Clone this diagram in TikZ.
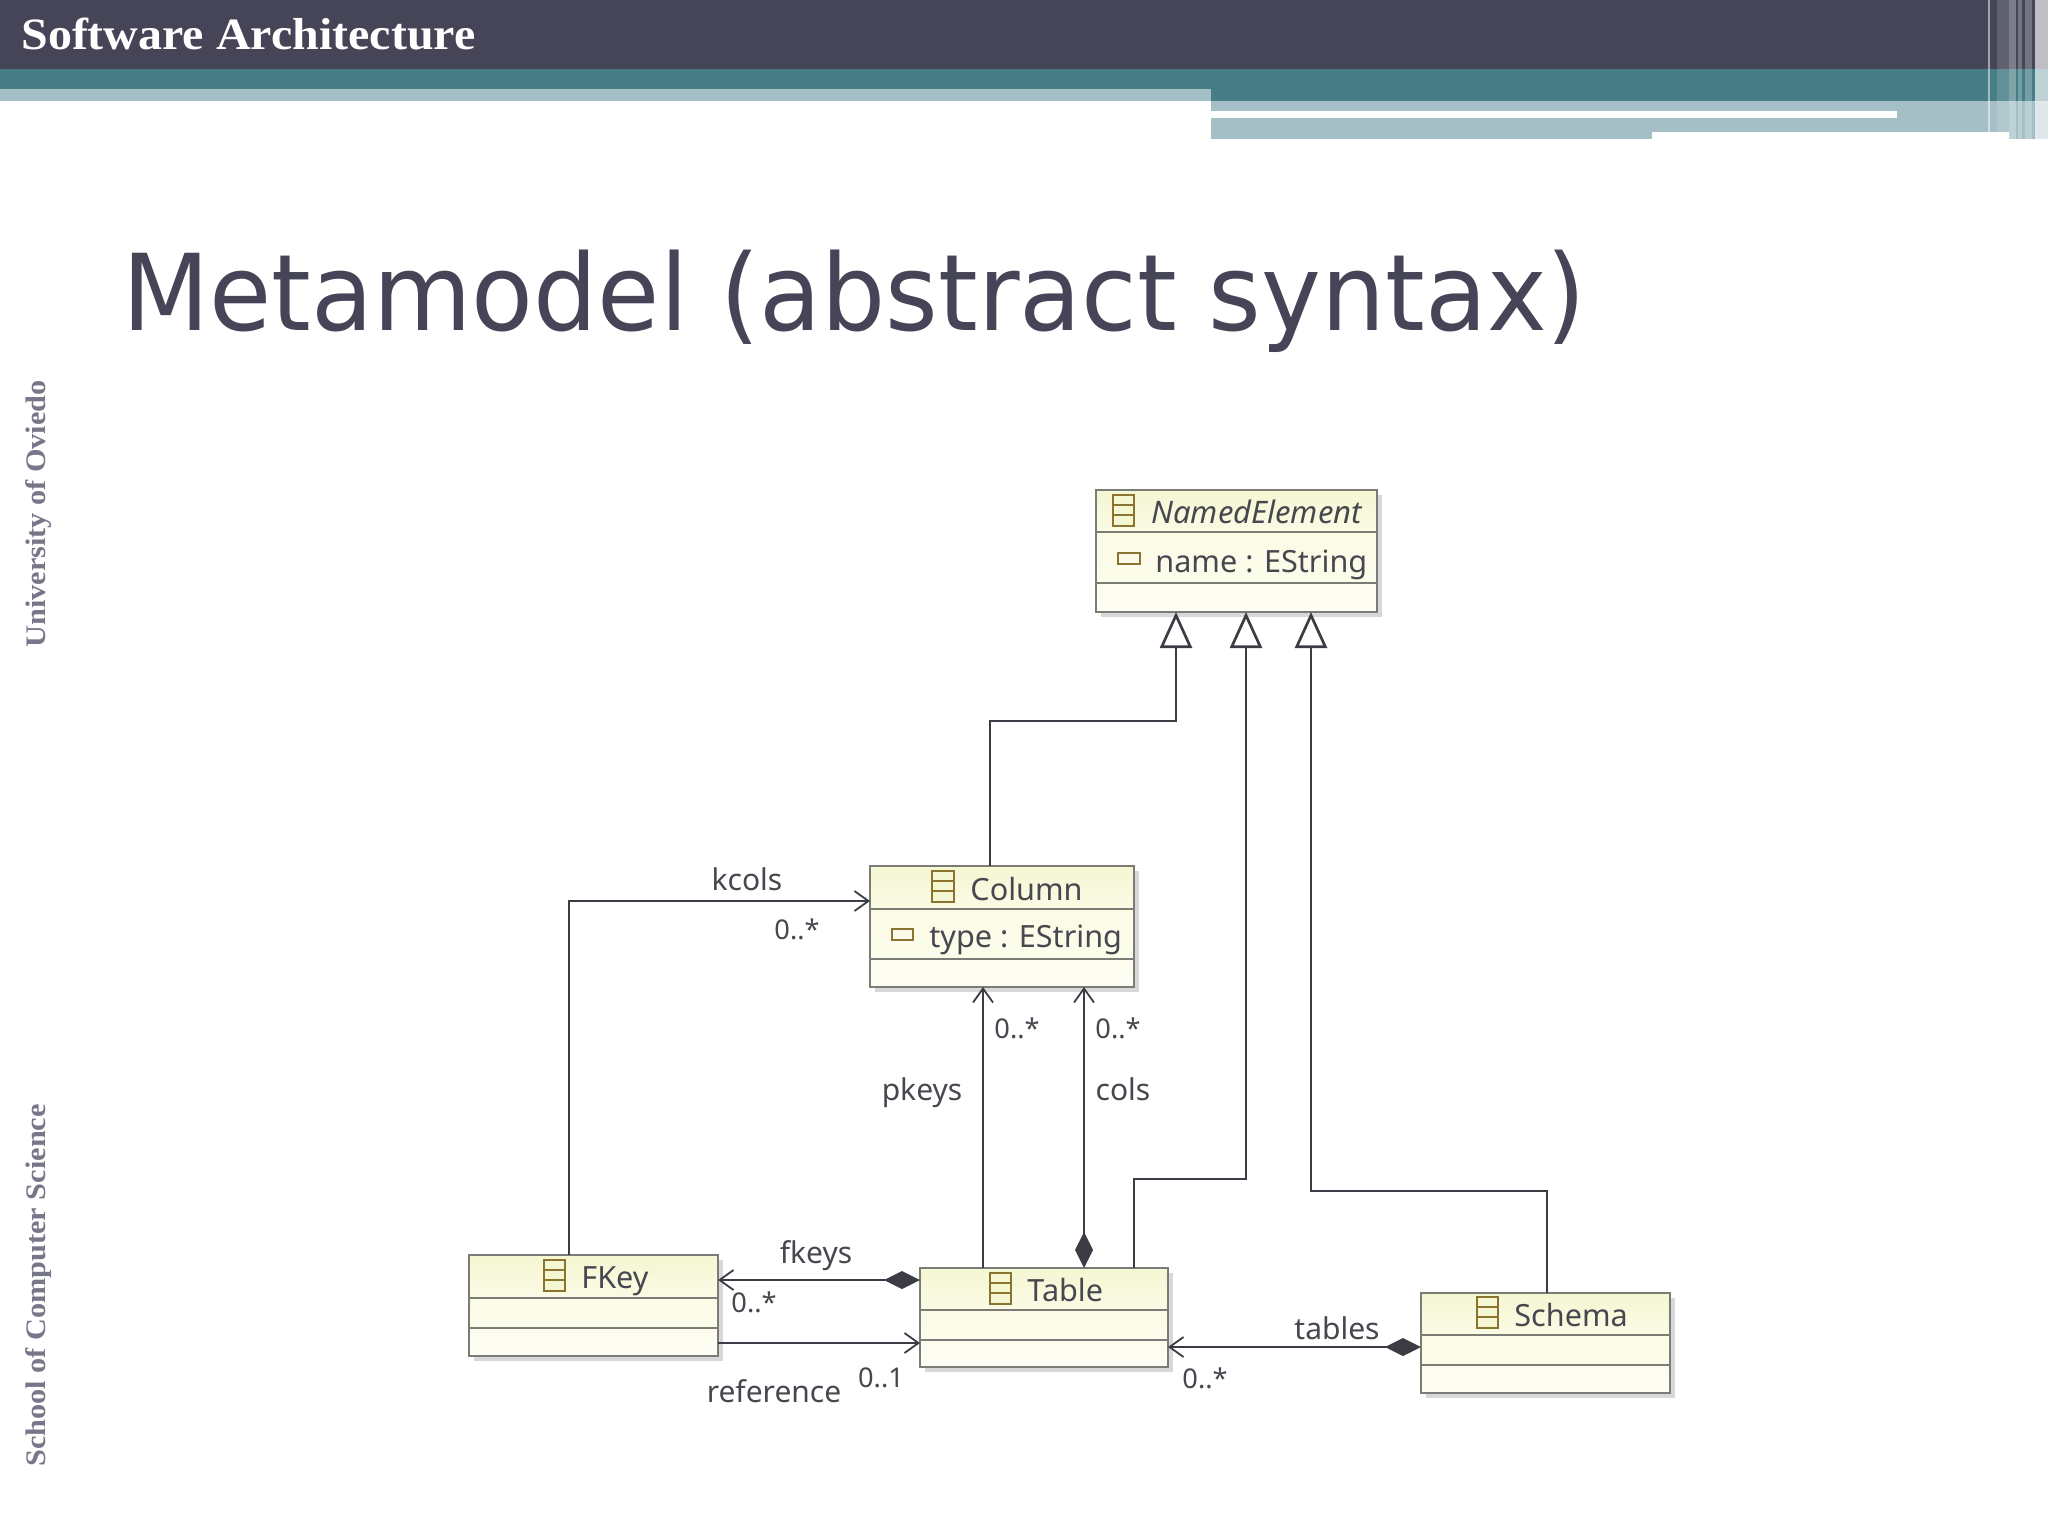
\documentclass[tikz,border=0pt]{standalone}
\usepackage{fontspec}
\setmainfont{Noto Sans}
\newfontfamily\serifb{Liberation Serif Bold}[FakeStretch=1.07]
\newfontfamily\titlef{DejaVu Sans Condensed}[FakeStretch=1.06]
\usetikzlibrary{arrows.meta,fit,positioning}
\definecolor{hdark}{HTML}{464558}
\definecolor{hteal}{HTML}{477D86}
\definecolor{hlight}{HTML}{A4BFC6}
\definecolor{boxa}{HTML}{F5F6D2}
\definecolor{boxb}{HTML}{FBFBE6}
\definecolor{boxc}{HTML}{FEFDF4}
\definecolor{frameC}{HTML}{7C7C76}
\definecolor{shadowC}{HTML}{D8D8D8}
\definecolor{lineC}{HTML}{3C3C44}
\definecolor{iconC}{HTML}{8A7430}
\definecolor{txtC}{HTML}{47474F}
\definecolor{sideC}{HTML}{77778A}
\tikzset{
  x=0.5pt,y=-0.5pt,
  frame/.style={draw=frameC,line width=1.35pt,inner sep=0pt,outer sep=0pt},
  conn/.style={draw=lineC,line width=1.35pt},
  genl/.style={conn,-{Triangle[open,fill=white,length=18pt,width=16pt]}},
  barb/.style={conn,-{Straight Barb[length=7pt,width=10pt,line width=0.9pt]}},
  dia/.style={conn,{Diamond[length=18pt,width=9pt,fill=lineC]}-{Straight Barb[length=7pt,width=10pt,line width=0.9pt]}},
  lab/.style={text=txtC,font=\fontsize{15}{15}\selectfont,inner sep=0pt,anchor=center},
  mult/.style={text=txtC,font=\fontsize{13.6}{13.6}\selectfont,inner sep=0pt,anchor=center},
  cname/.style={text=txtC,font=\fontsize{15.3}{15.3}\selectfont,inner sep=0pt,anchor=center},
  sidetext/.style={anchor=base west,rotate=90,inner sep=0pt,text=sideC,font=\serifb\fontsize{14.15}{14.15}\selectfont},
}
\newcommand\classbox[7]{%
  \fill[shadowC] (#2+5,#3+5) rectangle (#6+5,#7+5);
  \shade[top color=boxa,bottom color=boxb] (#2,#3) rectangle (#6,#4);
  \shade[top color=boxb,bottom color=boxb!60!boxc] (#2,#4) rectangle (#6,#5);
  \shade[top color=boxb!40!boxc,bottom color=boxc] (#2,#5) rectangle (#6,#7);
  \node[frame,fit={(#2,#3)(#6,#7)}] (#1) {};
  \draw[frameC,line width=1.2pt] (#2,#4) -- (#6,#4) (#2,#5) -- (#6,#5);
}
\newcommand\classicon[3]{% x1 y1 x2
  \draw[iconC,line width=0.9pt,fill=boxa] (#1,#2) rectangle (#3,#2+31);
  \draw[iconC,line width=0.9pt] (#1,#2+10) -- (#3,#2+10) (#1,#2+20) -- (#3,#2+20);
}
\newcommand\attricon[3]{%
  \draw[iconC,line width=0.9pt,fill=boxa!50!white] (#1,#2) rectangle (#3,#2+11);
}
\begin{document}
\begin{tikzpicture}
\useasboundingbox (0,0) rectangle (2048,1536);
\fill[white] (0,0) rectangle (2048,1536);
% header
\fill[hlight] (1211,100) rectangle (2048,139);
\fill[white] (1211,111) rectangle (1897,117.5);
\fill[white] (1652,132) rectangle (2009,139);
\fill[hdark] (0,0) rectangle (2048,69);
\fill[hteal] (0,69) rectangle (2048,101);
\fill[hlight] (0,89) rectangle (1211,101);
\fill[white,opacity=.5] (1988,0) rectangle (1990,139);
\fill[white,opacity=.15] (1997,0) rectangle (2009,139);
\fill[white,opacity=.3] (2009,0) rectangle (2016,139);
\fill[white,opacity=.25] (2018,0) rectangle (2022,139);
\fill[white,opacity=.25] (2025,0) rectangle (2032,139);
\fill[white,opacity=.65] (2035,0) rectangle (2048,139);
\node[anchor=base west,inner sep=0pt,text=white,font=\serifb\fontsize{22.4}{22.4}\selectfont] (hdr) at (21,49.5) {Software Architecture};
\node[anchor=base west,inner sep=0pt,text=hdark,font=\titlef\fontsize{53}{53}\selectfont] (ttl) at (122,330) {Metamodel (abstract syntax)};
\node[sidetext] (s1) at (45.5,648) {University of Oviedo};
\node[sidetext] (s2) at (45.5,1467) {School of Computer Science};
% classes
\classbox{ne}{1096}{490}{532}{583}{1377}{612}
\classbox{col}{870}{866}{909}{959}{1134}{987}
\classbox{fk}{469}{1255}{1298}{1328}{718}{1356}
\classbox{tb}{920}{1268}{1310}{1340}{1168}{1367}
\classbox{sc}{1421}{1293}{1335}{1365}{1670}{1393}
\classicon{1113}{495}{1134}
\classicon{932}{871}{954}
\classicon{544}{1260}{565}
\classicon{990}{1273}{1011}
\classicon{1477}{1297}{1498}
\attricon{1118}{553}{1140}
\attricon{892}{929}{913}
\node[cname,anchor=west,font=\fontsize{15.5}{15.5}\selectfont\itshape] (neN) at (1151,512) {NamedElement};
\node[cname,anchor=west] (neA) at (1155,565) {name : EString};
\node[cname,anchor=west] (colN) at (970,889) {Column};
\node[cname,anchor=west] (colA) at (929,940) {type : EString};
\node[cname,anchor=west] (fkN) at (581,1281) {FKey};
\node[cname,anchor=west] (tbN) at (1027,1290) {Table};
\node[cname,anchor=west] (scN) at (1514,1315) {Schema};
% routing coordinates
\coordinate (g1) at (1176,721);
\coordinate (g2) at (1246,1179);
\coordinate (g3) at (1311,1191);
\coordinate (kc) at (569,901);
\coordinate (xa) at (990,0);
\coordinate (xb) at (1134,0);
\coordinate (xc) at (1547,0);
\coordinate (xd) at (983,0);
\coordinate (xe) at (1084,0);
\coordinate (yf) at (0,1280);
\coordinate (yr) at (0,1343);
\coordinate (yt) at (0,1347);
% generalisations
\draw[genl] (col.north -| xa) |- (g1) -- (ne.south -| g1);
\draw[genl] (tb.north -| xb) |- (g2) -- (ne.south -| g2);
\draw[genl] (sc.north -| xc) |- (g3) -- (ne.south -| g3);
% references
\draw[barb] (fk.north -| kc) |- (col.west |- kc);
\draw[barb] (tb.north -| xd) -- (col.south -| xd);
\draw[dia] (tb.north -| xe) -- (col.south -| xe);
\draw[dia] (tb.west |- yf) -- (fk.east |- yf);
\draw[barb] (fk.east |- yr) -- (tb.west |- yr);
\draw[dia] (sc.west |- yt) -- (tb.east |- yt);
% labels
\node[lab] (l1) at (747,879) {kcols};
\node[mult] (l2) at (797,929) {0..*};
\node[mult] (l3) at (1017,1028) {0..*};
\node[mult] (l4) at (1118,1028) {0..*};
\node[lab] (l5) at (922,1093) {pkeys};
\node[lab] (l6) at (1123,1089) {cols};
\node[lab] (l7) at (816,1256) {fkeys};
\node[mult] (l8) at (754,1302) {0..*};
\node[lab] (l9) at (774,1391) {reference};
\node[mult] (l10) at (881,1378) {0..1};
\node[lab] (l11) at (1337,1328) {tables};
\node[mult] (l12) at (1205,1378) {0..*};
\end{tikzpicture}
\end{document}
